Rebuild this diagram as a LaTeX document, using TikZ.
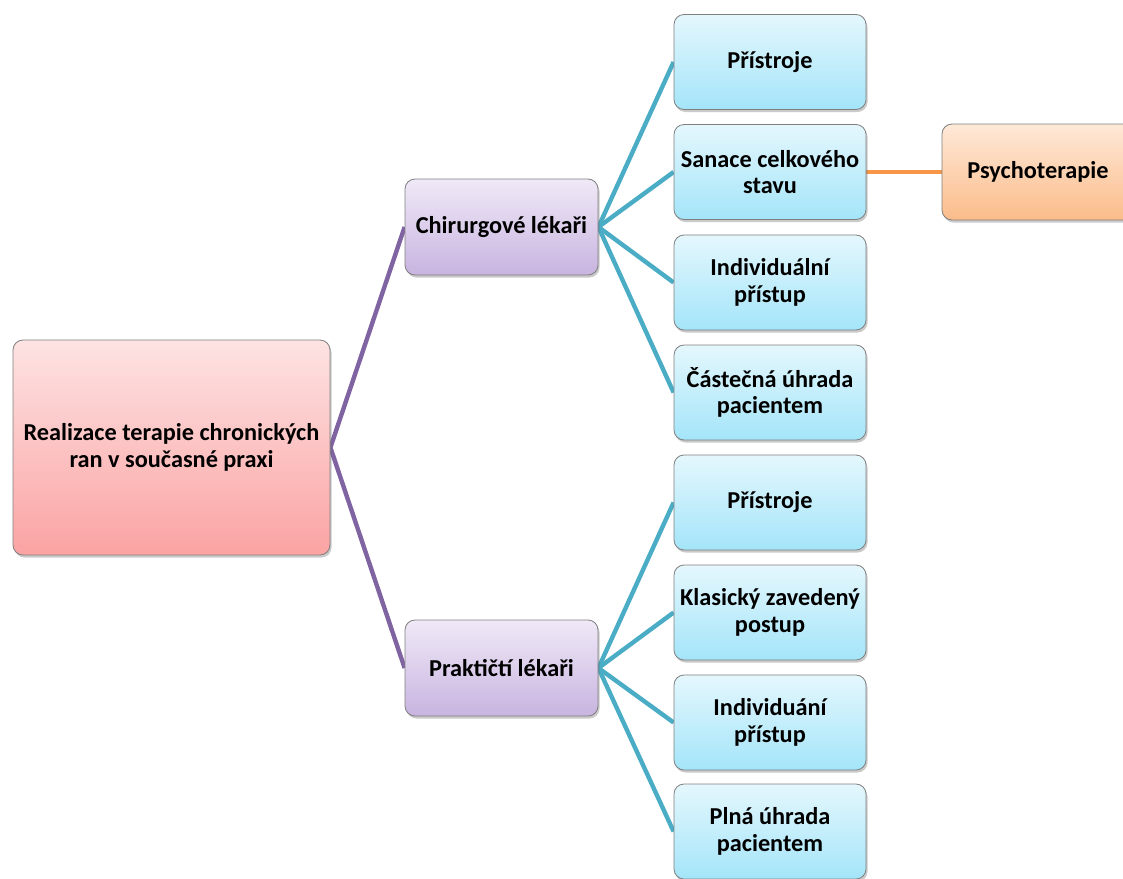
\documentclass[tikz,border=0pt]{standalone}
\usepackage{fontspec}
\setmainfont{Carlito}
\usetikzlibrary{shadows,backgrounds}

\definecolor{rootTop}{HTML}{FDE3E3}
\definecolor{rootBot}{HTML}{FBA3A3}
\definecolor{midTop}{HTML}{F0E9F7}
\definecolor{midBot}{HTML}{C8B4E0}
\definecolor{leafTop}{HTML}{E4F7FD}
\definecolor{leafBot}{HTML}{A4E5F9}
\definecolor{accTop}{HTML}{FEE9D8}
\definecolor{accBot}{HTML}{FBBC8A}
\definecolor{lnPurple}{HTML}{8064A2}
\definecolor{lnBlue}{HTML}{4BACC6}
\definecolor{lnOrange}{HTML}{F79646}
\definecolor{edgeGray}{HTML}{7F7F7F}

\tikzset{
  x=1pt, y=-1pt,
  card/.style={draw=edgeGray, line width=0.8pt, rounded corners=10pt,
    align=center, inner sep=0pt,
    font=\bfseries\fontsize{24.3}{26.5}\selectfont,
    shading=axis, shading angle=0,
    drop shadow={shadow xshift=1.5pt, shadow yshift=-2.5pt, opacity=0.35, fill=black!60}},
  rootbox/.style={card, top color=rootTop, bottom color=rootBot,
    minimum width=317pt, minimum height=215pt},
  midbox/.style={card, top color=midTop, bottom color=midBot,
    minimum width=193pt, minimum height=96pt},
  leafbox/.style={card, top color=leafTop, bottom color=leafBot,
    minimum width=192pt, minimum height=95pt},
  accbox/.style={card, top color=accTop, bottom color=accBot,
    minimum width=192pt, minimum height=96pt},
  linkP/.style={draw=lnPurple, line width=4.4pt},
  linkB/.style={draw=lnBlue, line width=4.4pt},
  linkO/.style={draw=lnOrange, line width=4.4pt},
}

\begin{document}
\begin{tikzpicture}
\useasboundingbox (0,0) rectangle (1123,878);
\clip (0,0) rectangle (1123,878);

% root
\node[rootbox] (root) at (171.5,447.5) {Realizace terapie chronických\\ran v současné praxi};

% second level
\node[midbox] (chir) at (501.5,227) {Chirurgové lékaři};
\node[midbox] (prak) at (501.5,668) {Praktičtí lékaři};

% leaves of the surgeons branch
\node[leafbox] (c1) at (770,62) {Přístroje};
\node[leafbox] (c2) at (770,172) {Sanace celkového\\stavu};
\node[leafbox] (c3) at (770,282.5) {Individuální\\přístup};
\node[leafbox] (c4) at (770,392.5) {Částečná úhrada\\pacientem};

% leaves of the general practitioners branch
\node[leafbox] (p1) at (770,502.5) {Přístroje};
\node[leafbox] (p2) at (770,612.5) {Klasický zavedený\\postup};
\node[leafbox] (p3) at (770,722.5) {Individuání\\přístup};
\node[leafbox] (p4) at (770,831.5) {Plná úhrada\\pacientem};

% third level
\node[accbox] (psy) at (1038,172) {Psychoterapie};

\begin{scope}[on background layer]
  \draw[linkP] (root.east) -- (chir.west);
  \draw[linkP] (root.east) -- (prak.west);
  \foreach \t in {c1,c2,c3,c4} \draw[linkB] (chir.east) -- (\t.west);
  \foreach \t in {p1,p2,p3,p4} \draw[linkB] (prak.east) -- (\t.west);
  \draw[linkO] (c2.east) -- (psy.west);
\end{scope}
\end{tikzpicture}
\end{document}
